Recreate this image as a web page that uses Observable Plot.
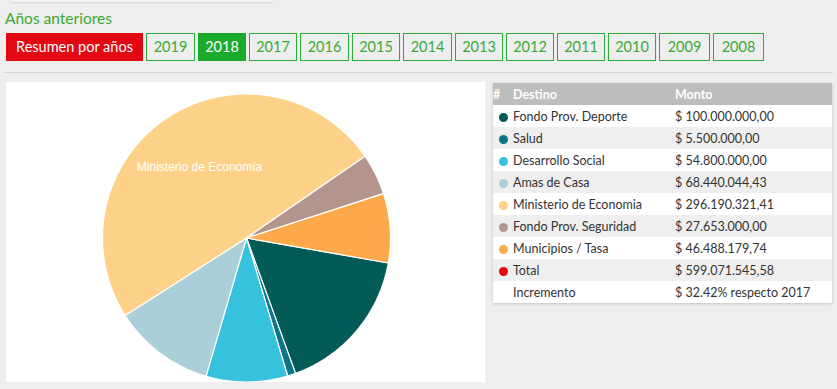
<!DOCTYPE html>
<html>
<head>
<meta charset="utf-8">
<script src="https://cdn.jsdelivr.net/npm/d3@7"></script>
<script src="https://cdn.jsdelivr.net/npm/@observablehq/plot@0.6"></script>
<style>
  html, body { margin:0; padding:0; }
  body { width:837px; height:389px; background:#eeeeee; font-family: Lato, "Noto Sans", sans-serif; position:relative; overflow:hidden; }
  #topbox { position:absolute; left:10px; top:-6px; width:263px; height:8px; background:#f3f3f3; box-shadow:0 1px 2px rgba(0,0,0,0.12); }
  #title { position:absolute; left:5px; top:9px; font-size:15.5px; color:#3aaa35; }
  #buttons { position:absolute; left:6px; top:33px; display:flex; gap:3px; }
  .btn { box-sizing:border-box; height:28px; line-height:26px; text-align:center; font-size:14.5px; color:#3aaa35; border:1px solid #2fab3a; }
  .btn.red { background:#e30613; border-color:#e30613; color:#fff; width:137px; }
  .btn.active { background:#1aab2c; border-color:#1aab2c; color:#fff; }
  .btn.yr { width:48px; }
  .btn.yr:nth-child(2), .btn.yr:nth-child(5), .btn.yr:nth-child(7) { width:49px; }
  .btn.yr:nth-child(12), .btn.yr:nth-child(13) { width:51px; }
  #rule { position:absolute; left:5px; top:72px; width:828px; height:1px; background:#d2d2d2; }
  #chart { position:absolute; left:6px; top:82px; width:479px; height:300px; background:#fff; }
  #chart svg { display:block; }
  #tbl { position:absolute; left:493px; top:83px; width:339px; border-collapse:collapse; box-shadow:0 1px 3px rgba(0,0,0,0.18); font-size:12.5px; color:#333; }
  #tbl td, #tbl th { height:22px; padding:0; white-space:nowrap; }
  #tbl th { background:#bdbdbd; color:#fff; font-weight:bold; text-align:left; }
  #tbl tr:nth-child(odd) td { background:#efefef; }
  #tbl tr:nth-child(even) td { background:#ffffff; }
  .c0 { width:20px; text-align:center; }
  .c1 { width:162px; }
  .dot { display:inline-block; width:9px; height:9px; border-radius:50%; vertical-align:middle; margin-left:1px; }
</style>
</head>
<body>
<div id="topbox"></div>
<div id="title">Años anteriores</div>
<div id="buttons"></div>
<div id="rule"></div>
<div id="chart"></div>
<table id="tbl"></table>
<script>
// ---- data ----
const yearButtons = ["2019","2018","2017","2016","2015","2014","2013","2012","2011","2010","2009","2008"];
const activeYear = "2018";
const destinos = ["Fondo Prov. Deporte","Salud","Desarrollo Social","Amas de Casa","Ministerio de Economia","Fondo Prov. Seguridad","Municipios / Tasa"];
const montos = [100000000.00, 5500000.00, 54800000.00, 68440044.43, 296190321.41, 27653000.00, 46488179.74];
const montoLabels = ["$ 100.000.000,00","$ 5.500.000,00","$ 54.800.000,00","$ 68.440.044,43","$ 296.190.321,41","$ 27.653.000,00","$ 46.488.179,74"];
const colores = ["#035b58","#0b7587","#36c1dc","#abcfd8","#fdd288","#b4958e","#fba94b"];
const totalLabel = "$ 599.071.545,58";
const totalColor = "#e30613";
const incrementoLabel = "$ 32.42% respecto 2017";
const pieLabelText = "Ministerio de Economía";
const pieLabelDestino = "Ministerio de Economia";

// ---- buttons ----
const bt = document.getElementById("buttons");
const r = document.createElement("div"); r.className = "btn red"; r.textContent = "Resumen por años"; bt.appendChild(r);
yearButtons.forEach(y => {
  const b = document.createElement("div");
  b.className = "btn yr" + (y === activeYear ? " active" : "");
  b.textContent = y; bt.appendChild(b);
});

// ---- table ----
const tbl = document.getElementById("tbl");
let html = '<tr><th class="c0">#</th><th class="c1">Destino</th><th>Monto</th></tr>';
destinos.forEach((d,i) => {
  html += `<tr><td class="c0"><span class="dot" style="background:${colores[i]}"></span></td><td class="c1">${d}</td><td>${montoLabels[i]}</td></tr>`;
});
html += `<tr><td class="c0"><span class="dot" style="background:${totalColor}"></span></td><td class="c1">Total</td><td>${totalLabel}</td></tr>`;
html += `<tr><td class="c0"></td><td class="c1">Incremento</td><td>${incrementoLabel}</td></tr>`;
tbl.innerHTML = html;

// ---- pie ----
const startDeg = 100;
const pie = d3.pie().sort(null).value(d => d.value)
  .startAngle(startDeg * Math.PI/180).endAngle((startDeg + 360) * Math.PI/180);
const slicesIn = destinos.map((d,i) => ({name:d, value:montos[i]}));
const arcs = pie(slicesIn);
const poly = [];
arcs.forEach(a => {
  const n = Math.max(4, Math.ceil((a.endAngle - a.startAngle) / 0.01));
  poly.push({name:a.data.name, x:0, y:0});
  for (let k = 0; k <= n; k++) {
    const t = a.startAngle + (a.endAngle - a.startAngle) * k / n;
    poly.push({name:a.data.name, x:Math.sin(t), y:Math.cos(t)});
  }
  poly.push({name:a.data.name, x:0, y:0});
});
const labelArc = arcs.find(a => a.data.name === pieLabelDestino);
const mid = (labelArc.startAngle + labelArc.endAngle) / 2;
const labels = [{x:0.59*Math.sin(mid), y:0.59*Math.cos(mid), text:pieLabelText}];

const W = 479, H = 300, R = 144, cx = 240, cy = 155.5;
const chart = Plot.plot({
  width: W, height: H, margin: 0,
  style: {background: "#fff"},
  x: {domain: [-cx/R, (W-cx)/R], axis: null},
  y: {domain: [-(H-cy)/R, cy/R], axis: null},
  color: {domain: destinos, range: colores},
  marks: [
    Plot.line(poly, {x:"x", y:"y", z:"name", fill:"name", stroke:"#fff", strokeWidth:1.2, curve:"linear"}),
    Plot.text(labels, {x:"x", y:"y", text:"text", fill:"#fff", fontSize:12, fontFamily:"Liberation Sans, Arial, sans-serif", textAnchor:"middle"})
  ]
});
document.getElementById("chart").appendChild(chart);
</script>
</body>
</html>
